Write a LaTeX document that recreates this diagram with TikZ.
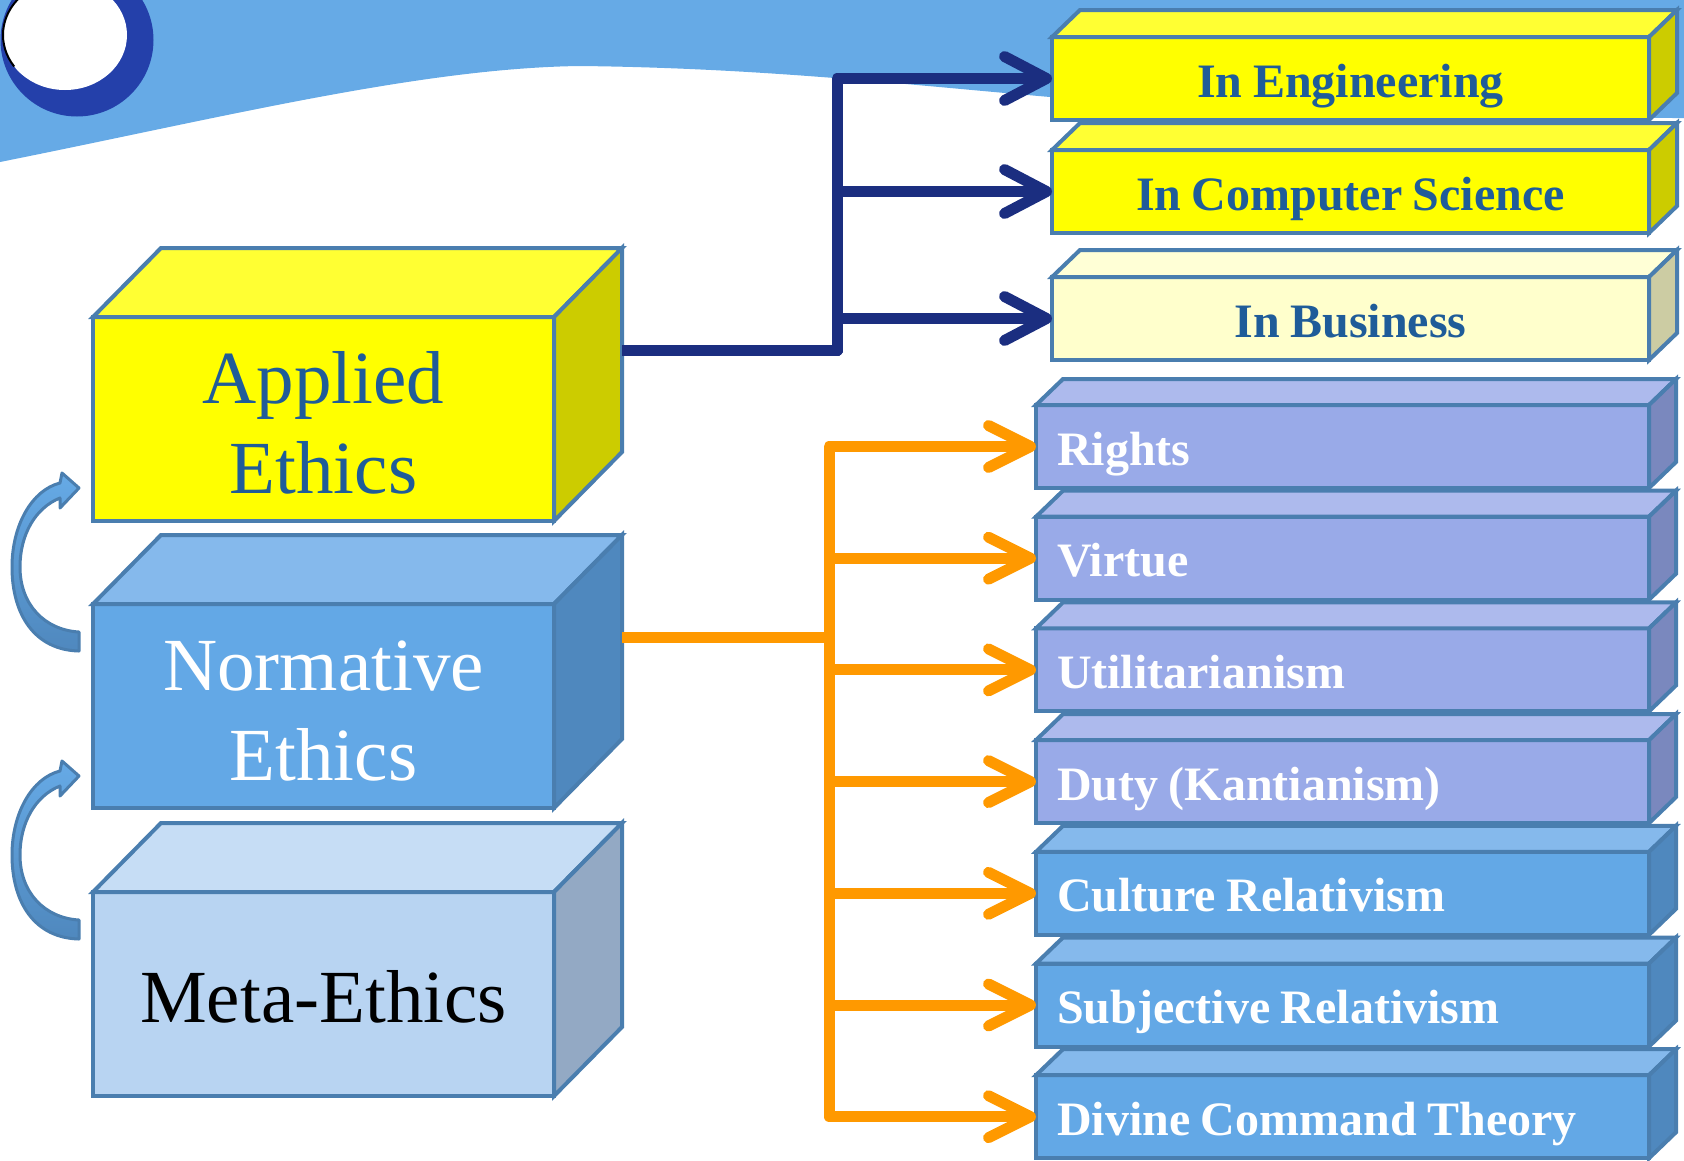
\documentclass[tikz,border=0pt]{standalone}
\usepackage{fontspec}
\setmainfont{Liberation Serif}
\usetikzlibrary{arrows.meta}
\definecolor{bgblue}{HTML}{66AAE6}
\definecolor{ringblue}{HTML}{2440AA}
\definecolor{bordercol}{HTML}{4A7EAF}
\definecolor{navyline}{HTML}{1B2E80}
\definecolor{orangeline}{HTML}{FF9900}
\definecolor{txtblue}{HTML}{1F5C99}
\definecolor{yfront}{HTML}{FFFF00}
\definecolor{ytop}{HTML}{FFFF33}
\definecolor{yside}{HTML}{CCCC00}
\definecolor{pyfront}{HTML}{FFFFCC}
\definecolor{pytop}{HTML}{FFFFD6}
\definecolor{pyside}{HTML}{CCCCA3}
\definecolor{bfront}{HTML}{63A8E6}
\definecolor{btop}{HTML}{85B9EC}
\definecolor{bside}{HTML}{4F88BE}
\definecolor{mfront}{HTML}{B8D4F2}
\definecolor{mtop}{HTML}{C6DDF5}
\definecolor{mside}{HTML}{93A9C4}
\definecolor{pfront}{HTML}{99AAE8}
\definecolor{ptop}{HTML}{ADBAED}
\definecolor{pside}{HTML}{7A88BE}
\newcommand\cubefaces[5]{%
  \filldraw[boxline, fill=#4] (#1.north west) -- ++(#2,-#3) -- ([shift={(#2,-#3)}]#1.north east) -- (#1.north east) -- cycle;
  \filldraw[boxline, fill=#5] (#1.north east) -- ++(#2,-#3) -- ([shift={(#2,-#3)}]#1.south east) -- (#1.south east) -- cycle;
}
\newcommand\listfontsel{\fontsize{48}{58}\selectfont\bfseries\fontdimen2\font=10.5pt\relax}
\begin{document}
\begin{tikzpicture}[x=1pt,y=-1pt,
  boxline/.style={draw=bordercol, line width=4pt, line join=miter},
  bigbox/.style={boxline, minimum width=461pt, minimum height=204pt, inner sep=0pt, outer sep=0pt, align=center, font=\fontsize{75}{90}\selectfont},
  topbox/.style={boxline, minimum height=83pt, inner xsep=21pt, inner ysep=0pt, outer sep=0pt, text width=555pt, align=flush center, text height=37pt, text depth=0pt, text=txtblue, font=\listfontsel},
  listbox/.style={boxline, minimum height=83pt, inner xsep=21pt, inner ysep=0pt, outer sep=0pt, text width=571pt, align=flush left, text height=37pt, text depth=0pt, text=white, font=\listfontsel},
  navyarrow/.style={draw=navyline, line width=11pt, line join=round, -{Straight Barb[length=42pt,width=44pt,round]}},
  orangearrow/.style={draw=orangeline, line width=11pt, line join=round, -{Straight Barb[length=42pt,width=42pt,round]}},
  curvarrow/.style={draw=bordercol, line width=3pt, line join=round, top color=bgblue, bottom color=bside}
]
\clip (0,0) rectangle (1684,1160);
\useasboundingbox (0,0) rectangle (1684,1160);
% background band
\fill[bgblue] (0,0) -- (1684,0) -- (1684,118) .. controls (1500,118) and (1250,114) .. (1050,97)
  .. controls (900,84) and (760,68) .. (580,66) .. controls (420,68) and (220,118) .. (0,162) -- cycle;
% ring
\fill[ringblue] (77,40) circle (76.5pt);
\fill[white] (65,35) ellipse [x radius=62pt, y radius=55pt];
\draw[black, line width=2pt] (65,35) ++(115:62pt and 55pt) arc[start angle=115, end angle=215, x radius=62pt, y radius=55pt];
% curved arrows
\foreach \s in {0,288} {
  \path[curvarrow, shift={(0,\s)}] (79,651) .. controls (35,650) and (12,615) .. (12,567)
    .. controls (12,525) and (32,490) .. (60,483) -- (62,473) -- (79,488) -- (60,508) -- (60,498)
    .. controls (35,508) and (20,535) .. (20,567) .. controls (20,605) and (45,630) .. (79,632) -- cycle;
}
% left boxes
\node[bigbox, fill=yfront, text=txtblue] (app) at (323.5,419) {\rule{0pt}{60pt}Applied\\Ethics};
\cubefaces{app}{68}{69}{ytop}{yside}
\node[bigbox, fill=bfront, text=white] (nor) at (323.5,706) {\rule{0pt}{60pt}Normative\\Ethics};
\cubefaces{nor}{68}{69}{btop}{bside}
\node[bigbox, fill=mfront, text=black] (met) at (323.5,994) {\rule{0pt}{57pt}Meta-Ethics};
\cubefaces{met}{68}{69}{mtop}{mside}
% applications
\node[topbox, fill=yfront] (eng) at (1350.5,78.5) {In Engineering};
\cubefaces{eng}{28}{27}{ytop}{yside}
\node[topbox, fill=yfront] (cs) at (1350.5,191.5) {In Computer Science};
\cubefaces{cs}{28}{27}{ytop}{yside}
\node[topbox, fill=pyfront] (bus) at (1350.5,318.5) {In Business};
\cubefaces{bus}{28}{27}{pytop}{pyside}
% theories
\node[listbox, fill=pfront] (rig) at (1342.5,446.5) {Rights};
\cubefaces{rig}{27}{26}{ptop}{pside}
\node[listbox, fill=pfront] (vir) at (1342.5,558.2) {Virtue};
\cubefaces{vir}{27}{26}{ptop}{pside}
\node[listbox, fill=pfront] (uti) at (1342.5,669.9) {Utilitarianism};
\cubefaces{uti}{27}{26}{ptop}{pside}
\node[listbox, fill=pfront] (dut) at (1342.5,781.6) {Duty (Kantianism)};
\cubefaces{dut}{27}{26}{ptop}{pside}
\node[listbox, fill=bfront] (cul) at (1342.5,893.3) {Culture Relativism};
\cubefaces{cul}{27}{26}{btop}{bside}
\node[listbox, fill=bfront] (sub) at (1342.5,1005) {Subjective Relativism};
\cubefaces{sub}{27}{26}{btop}{bside}
\node[listbox, fill=bfront] (div) at (1342.5,1116.7) {Divine Command Theory};
\cubefaces{div}{27}{26}{btop}{bside}
% connectors
\coordinate (aR) at ([shift={(68,-69)}]app.east);
\coordinate (nR) at ([shift={(68,-69)}]nor.east);
\coordinate (jn) at (837,0);
\coordinate (jo) at (829,0);
\foreach \t in {eng,cs,bus} {
  \draw[navyarrow] (aR) -- (aR -| jn) |- (\t.west);
}
\foreach \t in {rig,vir,uti,dut,cul,sub,div} {
  \draw[orangearrow] (nR) -- (nR -| jo) |- (\t.west);
}
\end{tikzpicture}
\end{document}
